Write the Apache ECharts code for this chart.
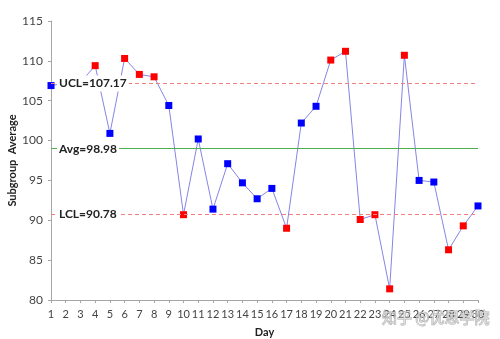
<!DOCTYPE html>
<html><head><meta charset="utf-8">
<script src="https://cdn.jsdelivr.net/npm/echarts@6/dist/echarts.min.js"></script>
<style>html,body{margin:0;padding:0;background:#fff}#c{width:500px;height:339px}</style>
</head><body><div id="c"></div>
<script>
const days = ['1','2','3','4','5','6','7','8','9','10','11','12','13','14','15','16','17','18','19','20','21','22','23','24','25','26','27','28','29','30'];
const subgroupAverage = [106.9,107.2,107.3,109.4,100.9,110.3,108.3,108.0,104.4,90.7,100.2,91.4,97.1,94.7,92.7,94.0,89.0,102.2,104.3,110.1,111.2,90.1,90.7,81.4,110.7,95.0,94.8,86.3,89.3,91.8];
const UCL = 107.17, AVG = 98.98, LCL = 90.78;
const yTicks = {min: 80, max: 115, interval: 5};

const font = 'Lato, "Open Sans", sans-serif';
const chart = echarts.init(document.getElementById('c'), null, {renderer: 'canvas'});
chart.setOption({
  animation: false,
  backgroundColor: '#fff',
  grid: {left: 51, right: 22, top: 21, bottom: 39, containLabel: false, outerBoundsMode: 'none'},
  xAxis: {
    type: 'category', data: days, boundaryGap: false,
    name: 'Day', nameLocation: 'middle', nameGap: 27,
    nameTextStyle: {fontFamily: font, fontWeight: 'bold', fontSize: 11, color: '#222'},
    axisLine: {lineStyle: {color: '#a6a6a6'}},
    axisTick: {show: true, length: 3, lineStyle: {color: '#a6a6a6'}},
    axisLabel: {fontFamily: font, fontSize: 11, color: '#444', margin: 9, interval: 0},
    splitLine: {show: false}
  },
  yAxis: {
    type: 'value', min: yTicks.min, max: yTicks.max, interval: yTicks.interval,
    name: 'Subgroup  Average', nameLocation: 'middle', nameGap: 33, nameRotate: 90,
    nameMoveOverlap: false,
    nameTextStyle: {fontFamily: font, fontWeight: 'bold', fontSize: 11, color: '#222'},
    axisLine: {show: true, lineStyle: {color: '#a6a6a6'}},
    axisTick: {show: true, length: 3, lineStyle: {color: '#a6a6a6'}},
    axisLabel: {fontFamily: font, fontSize: 12, color: '#444', margin: 8},
    splitLine: {show: false}
  },
  series: [{
    type: 'line',
    data: subgroupAverage.map(v => ({
      value: v,
      itemStyle: {color: (v > UCL || v < LCL) ? '#ff0000' : '#0000ff'}
    })),
    symbol: 'rect', symbolSize: 7,
    lineStyle: {color: '#8585e6', width: 1},
    markLine: {
      silent: true, symbol: 'none', z: 5,
      label: {
        show: true, position: 'insideStart', distance: 6,
        fontFamily: font, fontWeight: 'bold', fontSize: 12, color: '#222',
        backgroundColor: '#fff', padding: [2, 2, 2, 2]
      },
      data: [
        {yAxis: UCL, lineStyle: {color: '#f08080', type: [4, 3], width: 1}, label: {formatter: 'UCL=' + UCL.toFixed(2)}},
        {yAxis: AVG, lineStyle: {color: '#4fae4f', type: 'solid', width: 1, opacity: 1}, label: {formatter: 'Avg=' + AVG.toFixed(2)}},
        {yAxis: LCL, lineStyle: {color: '#f08080', type: [4, 3], width: 1}, label: {formatter: 'LCL=' + LCL.toFixed(2)}}
      ]
    }
  }],
  graphic: [{
    type: 'text', right: 10, bottom: 14, z: 100,
    style: {text: '知乎 @优思学院', font: '15px "Noto Sans CJK SC"', fill: 'rgba(255,255,255,0.5)', stroke: 'rgba(140,140,140,0.7)', lineWidth: 1}
  }]
});
</script></body></html>
